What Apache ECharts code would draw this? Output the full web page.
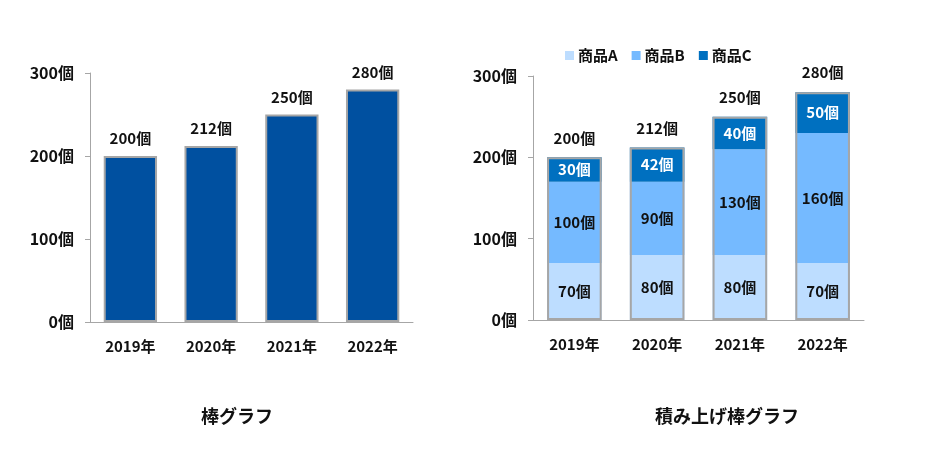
<!DOCTYPE html>
<html><head><meta charset="utf-8">
<script src="https://cdn.jsdelivr.net/npm/echarts@6/dist/echarts.min.js"></script>
<style>html,body{margin:0;padding:0;background:#fff}#c{width:929px;height:474px}</style>
</head><body><div id="c"></div>
<script>
const years = ['2019年','2020年','2021年','2022年'];
const totals = [200, 212, 250, 280];
const productA = [70, 80, 80, 70];
const productB = [100, 90, 130, 160];
const productC = [30, 42, 40, 50];
const seriesNames = ['商品A','商品B','商品C'];
const yTicks = {min: 0, max: 300, interval: 100};
const titles = ['棒グラフ','積み上げ棒グラフ'];

const FONT = '"Noto Sans CJK JP", "Noto Sans", sans-serif';
const BORDER = '#A6A6A6';
const chart = echarts.init(document.getElementById('c'));

function yAxis(gi){
  return {type:'value', gridIndex:gi, min:yTicks.min, max:yTicks.max, interval:yTicks.interval,
    splitLine:{show:false},
    axisLine:{show:true, lineStyle:{color:BORDER, width:1}},
    axisTick:{show:true, length:5, lineStyle:{color:BORDER}},
    axisLabel:{formatter:'{value}個', color:'#111', fontFamily:FONT, fontWeight:'bold', fontSize:16, margin:16}};
}
function xAxis(gi){
  return {type:'category', gridIndex:gi, data:years,
    axisLine:{show:true, lineStyle:{color:BORDER, width:1}},
    axisTick:{show:false},
    axisLabel:{color:'#111', fontFamily:FONT, fontWeight:'bold', fontSize:15, margin:17}};
}
const segLabel = (col) => ({show:true, position:'inside', formatter:'{c}個', color:col, fontFamily:FONT, fontWeight:'bold', fontSize:15});

chart.setOption({
  animation:false,
  textStyle:{fontFamily:FONT},
  title:[
    {text:titles[0], left:232, top:402, textAlign:'center', textStyle:{fontFamily:FONT, fontWeight:'bold', fontSize:18, color:'#111'}},
    {text:titles[1], left:722, top:402, textAlign:'center', textStyle:{fontFamily:FONT, fontWeight:'bold', fontSize:18, color:'#111'}}
  ],
  legend:{data:seriesNames, left:560, top:43, itemWidth:9, itemHeight:9, itemGap:14, icon:'rect',
    textStyle:{fontFamily:FONT, fontWeight:'bold', fontSize:15, color:'#111', padding:[0,0,0,-1]}},
  grid:[
    {left:90, right:516, top:73, bottom:152},
    {left:533, right:65, top:76, bottom:154}
  ],
  xAxis:[xAxis(0), xAxis(1)],
  yAxis:[yAxis(0), yAxis(1)],
  series:[
    {type:'bar', xAxisIndex:0, yAxisIndex:0, data:totals, barWidth:'66%',
      itemStyle:{color:'#0050A0', borderColor:BORDER, borderWidth:2},
      label:{show:true, position:'top', distance:10, formatter:'{c}個', color:'#111', fontFamily:FONT, fontWeight:'bold', fontSize:15}},
    {name:seriesNames[0], type:'bar', xAxisIndex:1, yAxisIndex:1, stack:'s', data:productA, barWidth:'66%', barGap:'-100%',
      itemStyle:{color:'#BDDDFF'}, label:segLabel('#111')},
    {name:seriesNames[1], type:'bar', xAxisIndex:1, yAxisIndex:1, stack:'s', data:productB, barWidth:'66%',
      itemStyle:{color:'#75BAFF'}, label:segLabel('#111')},
    {name:seriesNames[2], type:'bar', xAxisIndex:1, yAxisIndex:1, stack:'s', data:productC, barWidth:'66%',
      itemStyle:{color:'#0070C0'}, label:segLabel('#fff')},
    {name:'合計', type:'bar', xAxisIndex:1, yAxisIndex:1, data:totals, barWidth:'66%', barGap:'-100%', z:5,
      itemStyle:{color:'rgba(0,0,0,0)', borderColor:BORDER, borderWidth:2},
      label:{show:true, position:'top', distance:12, formatter:'{c}個', color:'#111', fontFamily:FONT, fontWeight:'bold', fontSize:15}}
  ]
});
</script></body></html>
